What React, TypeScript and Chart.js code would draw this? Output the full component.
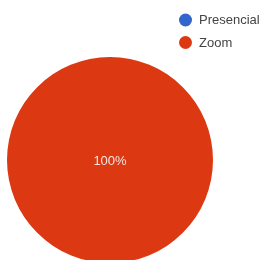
import React, { useEffect, useRef } from "react";
import { Chart, registerables } from "chart.js";

Chart.register(...registerables);

const categories = ["Presencial", "Zoom"];
const values = [0, 100];
const colors = ["#3366cc", "#dc3912"];

const W = 264;
const H = 266;

const overlayPlugin = {
  id: "overlay",
  afterDraw(chart: any) {
    const ctx = chart.ctx;
    const ds = chart.data.datasets[0];
    const total = ds.data.reduce((a: number, b: number) => a + b, 0);
    const meta = chart.getDatasetMeta(0);
    ctx.save();
    // slice labels
    ctx.font = "13px 'Liberation Sans', Arial, sans-serif";
    ctx.fillStyle = "#f4e6e2";
    ctx.textAlign = "center";
    ctx.textBaseline = "middle";
    meta.data.forEach((arc: any, i: number) => {
      const v = ds.data[i];
      if (!v) return;
      const pct = Math.round((v / total) * 100);
      let x: number, y: number;
      if (pct >= 100) {
        x = arc.x;
        y = arc.y + 1;
      } else {
        const p = arc.tooltipPosition();
        x = p.x;
        y = p.y;
      }
      ctx.fillText(pct + "%", x, y);
    });
    // legend
    const lx = 185.5;
    const ly = [20, 42.5];
    ctx.textAlign = "left";
    chart.data.labels.forEach((lab: string, i: number) => {
      ctx.beginPath();
      ctx.fillStyle = colors[i];
      ctx.arc(lx, ly[i], 6.5, 0, Math.PI * 2);
      ctx.fill();
      ctx.fillStyle = "#444444";
      ctx.fillText(lab, 199, ly[i] + 0.5);
    });
    ctx.restore();
  },
};

export default function App() {
  const ref = useRef<HTMLCanvasElement | null>(null);
  useEffect(() => {
    if (!ref.current) return;
    const chart = new Chart(ref.current, {
      type: "pie",
      data: {
        labels: categories,
        datasets: [
          {
            data: values,
            backgroundColor: colors,
            borderWidth: 0,
          },
        ],
      },
      options: {
        responsive: false,
        animation: false,
        layout: {
          padding: { left: 7, right: W - 213, top: 57, bottom: H - 263 },
        },
        plugins: {
          legend: { display: false },
          tooltip: { enabled: false },
        },
      },
      plugins: [overlayPlugin],
    });
    return () => chart.destroy();
  }, []);
  return (
    <div
      style={{
        position: "fixed",
        left: 0,
        top: 0,
        width: 264,
        height: 260,
        overflow: "hidden",
        background: "#ffffff",
      }}
    >
      <canvas ref={ref} width={W} height={H} style={{ display: "block" }} />
    </div>
  );
}
